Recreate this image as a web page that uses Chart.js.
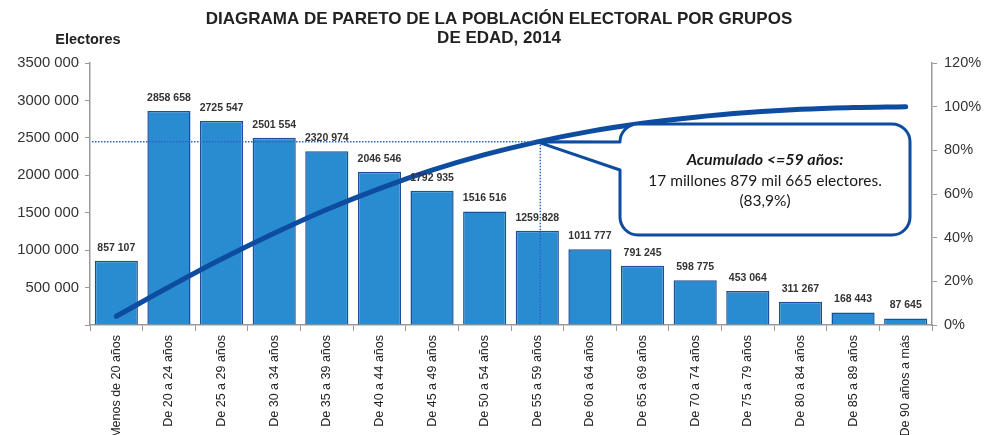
<!DOCTYPE html>
<html>
<head>
<meta charset="utf-8">
<script src="https://cdn.jsdelivr.net/npm/chart.js@4.4.1/dist/chart.umd.min.js"></script>
<style>
  html, body { margin: 0; padding: 0; background: #ffffff; }
  #wrap { width: 985px; height: 435px; }
</style>
</head>
<body>
<div id="wrap"><canvas id="pareto" width="985" height="435"></canvas></div>
<script>
// categories and values
const grupos = [
  "Menos de 20 años", "De 20 a 24 años", "De 25 a 29 años", "De 30 a 34 años",
  "De 35 a 39 años", "De 40 a 44 años", "De 45 a 49 años", "De 50 a 54 años",
  "De 55 a 59 años", "De 60 a 64 años", "De 65 a 69 años", "De 70 a 74 años",
  "De 75 a 79 años", "De 80 a 84 años", "De 85 a 89 años", "De 90 años a más"
];
const electores = [
  857107, 2858658, 2725547, 2501554, 2320974, 2046546, 1792935, 1516516,
  1259828, 1011777, 791245, 598775, 453064, 311267, 168443, 87645
];
// cumulative share (right axis)
const acumulado = [
  0.040, 0.174, 0.302, 0.420, 0.529, 0.625, 0.709, 0.780,
  0.839, 0.887, 0.924, 0.952, 0.973, 0.988, 0.996, 1.000
];
const marcaIndice = 8; // "De 55 a 59 años"
const tituloLineas = ["DIAGRAMA DE PARETO DE LA POBLACIÓN ELECTORAL POR GRUPOS", "DE EDAD, 2014"];
const notaLineas = ["Acumulado <=59 años:", "17 millones 879 mil 665 electores.", "(83,9%)"];

const AZUL_BARRA = "#2a8cd0";
const AZUL_BORDE = "#1d4f98";
const AZUL_LINEA = "#0d4c9e";

function miles(v) {
  const th = Math.floor(v / 1000);
  const r = String(v % 1000).padStart(3, "0");
  return th > 0 ? th + " " + r : String(v % 1000);
}

Chart.defaults.font.family = "'Liberation Sans', Arial, sans-serif";
Chart.defaults.color = "#222";

/* texts, labels, reference lines and callout */
const extras = {
  id: "extras",
  afterDatasetsDraw(chart) {
    const ctx = chart.ctx;
    const xs = chart.scales.x, ys = chart.scales.y, yp = chart.scales.y1;
    const area = chart.chartArea;

    // value labels over the bars
    ctx.save();
    ctx.font = "bold 10.5px 'Liberation Sans', Arial";
    ctx.fillStyle = "#333";
    ctx.textAlign = "center";
    ctx.textBaseline = "alphabetic";
    electores.forEach((v, i) => {
      ctx.fillText(miles(v), xs.getPixelForValue(i), ys.getPixelForValue(v) - 10);
    });
    ctx.restore();

    // dotted guide lines
    const px = xs.getPixelForValue(marcaIndice) + 3;
    const py = yp.getPixelForValue(acumulado[marcaIndice]);
    ctx.save();
    ctx.strokeStyle = "#2a64c0";
    ctx.lineWidth = 1.5;
    ctx.setLineDash([1.5, 1.5]);
    ctx.beginPath();
    ctx.moveTo(area.left + 2, py);
    ctx.lineTo(px, py);
    ctx.moveTo(px, py);
    ctx.lineTo(px, area.bottom);
    ctx.stroke();
    ctx.restore();
  },
  afterDraw(chart) {
    const ctx = chart.ctx;
    const xs = chart.scales.x, yp = chart.scales.y1;

    // title
    ctx.save();
    ctx.fillStyle = "#222";
    ctx.textAlign = "center";
    ctx.textBaseline = "middle";
    ctx.font = "bold 17px 'Liberation Sans', Arial";
    ctx.fillText(tituloLineas[0], 499, 19);
    ctx.fillText(tituloLineas[1], 499, 38);
    ctx.font = "bold 14.5px 'Liberation Sans', Arial";
    ctx.fillText("Electores", 88, 40);
    ctx.restore();

    // callout
    const tx = xs.getPixelForValue(marcaIndice);
    const ty = yp.getPixelForValue(acumulado[marcaIndice]);
    const L = 620, T = 124, R = 910, B = 235, r = 18;
    ctx.save();
    ctx.beginPath();
    ctx.moveTo(L + r, T);
    ctx.lineTo(R - r, T);
    ctx.arcTo(R, T, R, T + r, r);
    ctx.lineTo(R, B - r);
    ctx.arcTo(R, B, R - r, B, r);
    ctx.lineTo(L + r, B);
    ctx.arcTo(L, B, L, B - r, r);
    ctx.lineTo(L, 170);
    ctx.lineTo(tx, ty);
    ctx.lineTo(L, T + r);
    ctx.arcTo(L, T, L + r, T, r);
    ctx.closePath();
    ctx.fillStyle = "#ffffff";
    ctx.fill();
    ctx.lineWidth = 3;
    ctx.strokeStyle = AZUL_LINEA;
    ctx.lineJoin = "round";
    ctx.stroke();

    ctx.fillStyle = "#1a1a1a";
    ctx.textAlign = "center";
    ctx.textBaseline = "middle";
    const cx = (L + R) / 2;
    ctx.font = "italic bold 16px Lato, 'Open Sans', sans-serif";
    ctx.fillText(notaLineas[0], cx, 160);
    ctx.font = "15.5px Lato, 'Open Sans', sans-serif";
    ctx.fillText(notaLineas[1], cx, 181);
    ctx.fillText(notaLineas[2], cx, 201);
    ctx.restore();
  }
};

new Chart(document.getElementById("pareto"), {
  data: {
    labels: grupos,
    datasets: [
      {
        type: "line",
        label: "Acumulado",
        data: acumulado,
        yAxisID: "y1",
        borderColor: AZUL_LINEA,
        borderWidth: 5,
        borderCapStyle: "round",
        tension: 0.4,
        pointRadius: 0,
        fill: false,
        order: 0
      },
      {
        type: "bar",
        label: "Electores",
        data: electores,
        yAxisID: "y",
        backgroundColor: AZUL_BARRA,
        borderColor: AZUL_BORDE,
        borderWidth: 1.5,
        barPercentage: 0.82,
        categoryPercentage: 1,
        order: 1
      }
    ]
  },
  options: {
    responsive: false,
    animation: false,
    devicePixelRatio: 1,
    layout: { padding: { top: 63, left: 0, right: 0, bottom: 0 } },
    plugins: {
      legend: { display: false },
      tooltip: { enabled: false },
      title: { display: false }
    },
    scales: {
      x: {
        offset: true,
        grid: { offset: true, drawOnChartArea: false, drawTicks: true, tickLength: 6, color: "#9a9a9a" },
        border: { display: true, color: "#9a9a9a", width: 1.5 },
        ticks: {
          autoSkip: false,
          minRotation: 90,
          maxRotation: 90,
          padding: 4,
          color: "#222",
          font: { size: 12.5 }
        },
        afterFit(scale) { scale.height = 110; }
      },
      y: {
        position: "left",
        min: 0,
        max: 3500000,
        ticks: {
          stepSize: 500000,
          padding: 6,
          color: "#333",
          font: { size: 14.8 },
          callback: v => (v === 0 ? "" : miles(v))
        },
        grid: { drawOnChartArea: false, drawTicks: true, tickLength: 5, color: "#9a9a9a" },
        border: { display: true, color: "#9a9a9a", width: 1.5 },
        afterFit(scale) { scale.width = 90; }
      },
      y1: {
        position: "right",
        min: 0,
        max: 1.2,
        ticks: {
          stepSize: 0.2,
          padding: 7,
          color: "#333",
          font: { size: 14.5 },
          callback: v => Math.round(v * 100) + "%"
        },
        grid: { drawOnChartArea: false, drawTicks: true, tickLength: 5, color: "#9a9a9a" },
        border: { display: true, color: "#9a9a9a", width: 1.5 },
        afterFit(scale) { scale.width = 53; }
      }
    }
  },
  plugins: [extras]
});
</script>
</body>
</html>
